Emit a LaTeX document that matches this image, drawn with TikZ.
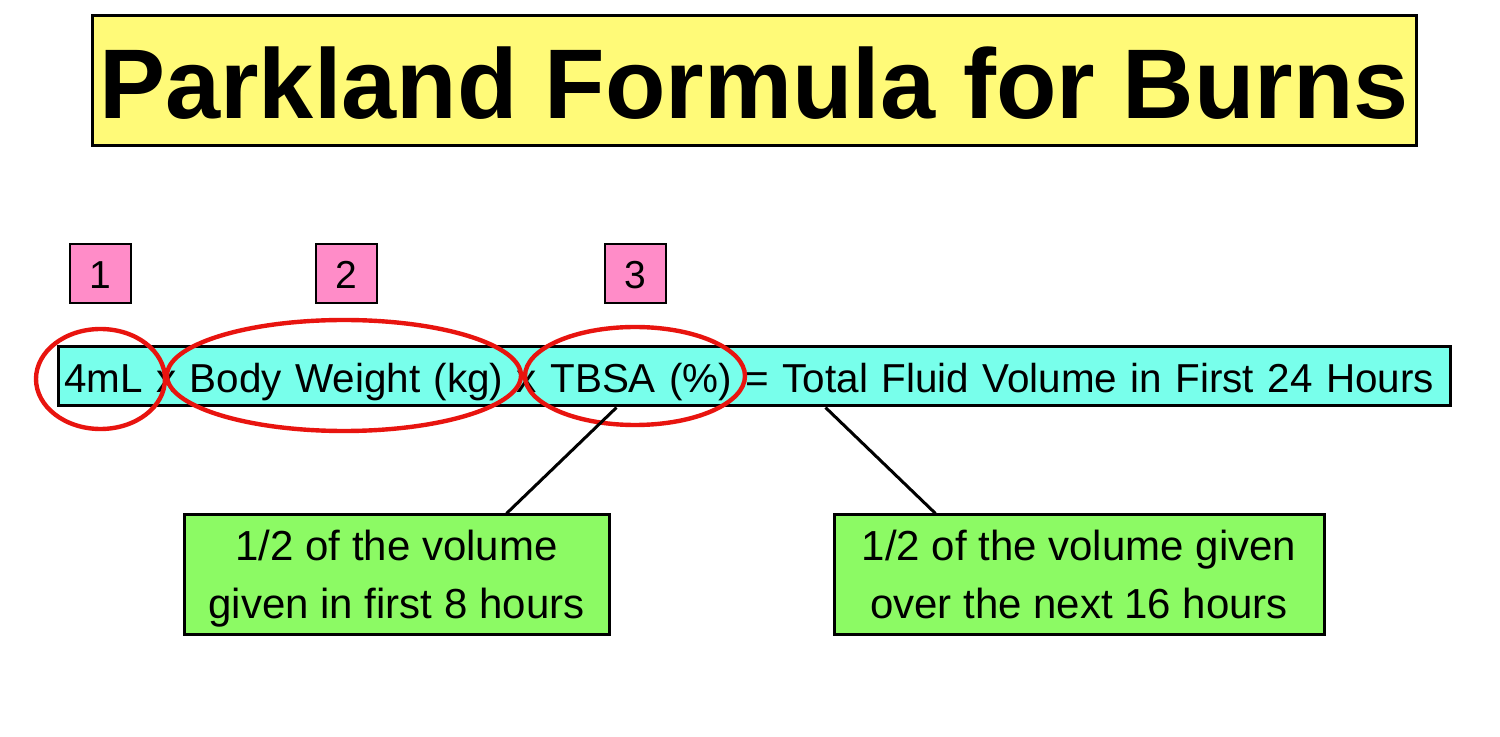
\documentclass[tikz,border=0pt]{standalone}
\usepackage{fontspec}
\setmainfont{Liberation Sans}
\usetikzlibrary{shapes.geometric,calc}
\definecolor{titleyellow}{RGB}{255,250,120}
\definecolor{formcyan}{RGB}{120,255,235}
\definecolor{notegreen}{RGB}{140,250,100}
\definecolor{tagpink}{RGB}{255,140,200}
\definecolor{ringred}{RGB}{232,20,15}
\newcommand{\topstrut}{\rule{0pt}{20pt}}
\newcommand{\botstrut}{\rule[-5.5pt]{0pt}{5.5pt}}
\begin{document}
\begin{tikzpicture}[x=0.5pt,y=-0.5pt,
  titlebox/.style={draw=black, line width=1.5pt, fill=titleyellow, minimum width=662pt, minimum height=65pt, inner sep=0pt, text height=40pt, text depth=2pt, font=\fontsize{49.5}{55}\selectfont\bfseries},
  formulabox/.style={draw=black, line width=1.5pt, fill=formcyan, minimum height=29.5pt, text width=694pt, inner xsep=1pt, inner ysep=0pt, align=left, text height=20pt, text depth=3.5pt, font=\fontsize{20.2}{24}\selectfont},
  tagbox/.style={draw=black, line width=1.2pt, fill=tagpink, minimum width=30.5pt, minimum height=29.5pt, inner sep=0pt, text height=17pt, text depth=1.5pt, font=\fontsize{19.5}{22}\selectfont},
  notebox/.style={draw=black, line width=1.5pt, fill=notegreen, minimum height=59.5pt, inner sep=0pt, align=center, font=\fontsize{21}{29}\selectfont},
  ring/.style={ellipse, draw=ringred, line width=2.2pt, inner sep=0pt},
  connector/.style={draw=black, line width=1.5pt}]
\fill[white] (0,0) rectangle (1500,737);
\useasboundingbox (0,0) rectangle (1500,737);

\node[titlebox] (title) at (754,81) {Parkland Formula for Burns};

\node[tagbox] (tag1) at (100.5,273.5) {1};
\node[tagbox] (tag2) at (346.5,273.5) {2};
\node[tagbox] (tag3) at (635.5,273.5) {3};

\node[formulabox] (formula) at (754,376.5) {\hspace*{2pt}4mL x Body Weight (kg) x TBSA (\%) = Total Fluid Volume in First 24 Hours};

\node[ring, minimum width=64.5pt, minimum height=50pt] (ring1) at (100.5,379) {};
\node[ring, minimum width=177pt, minimum height=55.5pt] (ring2) at (344,375.5) {};
\node[ring, minimum width=110pt, minimum height=49pt] (ring3) at (635,376) {};

\node[notebox, minimum width=212.5pt] (note1) at (396.5,574.5) {\topstrut 1/2 of the volume\\given in first 8 hours\botstrut};
\node[notebox, minimum width=245pt] (note2) at (1079,574.5) {\topstrut 1/2 of the volume given\\over the next 16 hours\botstrut};

\draw[connector] ($(formula.south west)+(560,0)$) -- ($(note1.north west)+(324,0)$);
\draw[connector] ($(formula.south west)+(769,0)$) -- ($(note2.north west)+(103,0)$);
\end{tikzpicture}
\end{document}
